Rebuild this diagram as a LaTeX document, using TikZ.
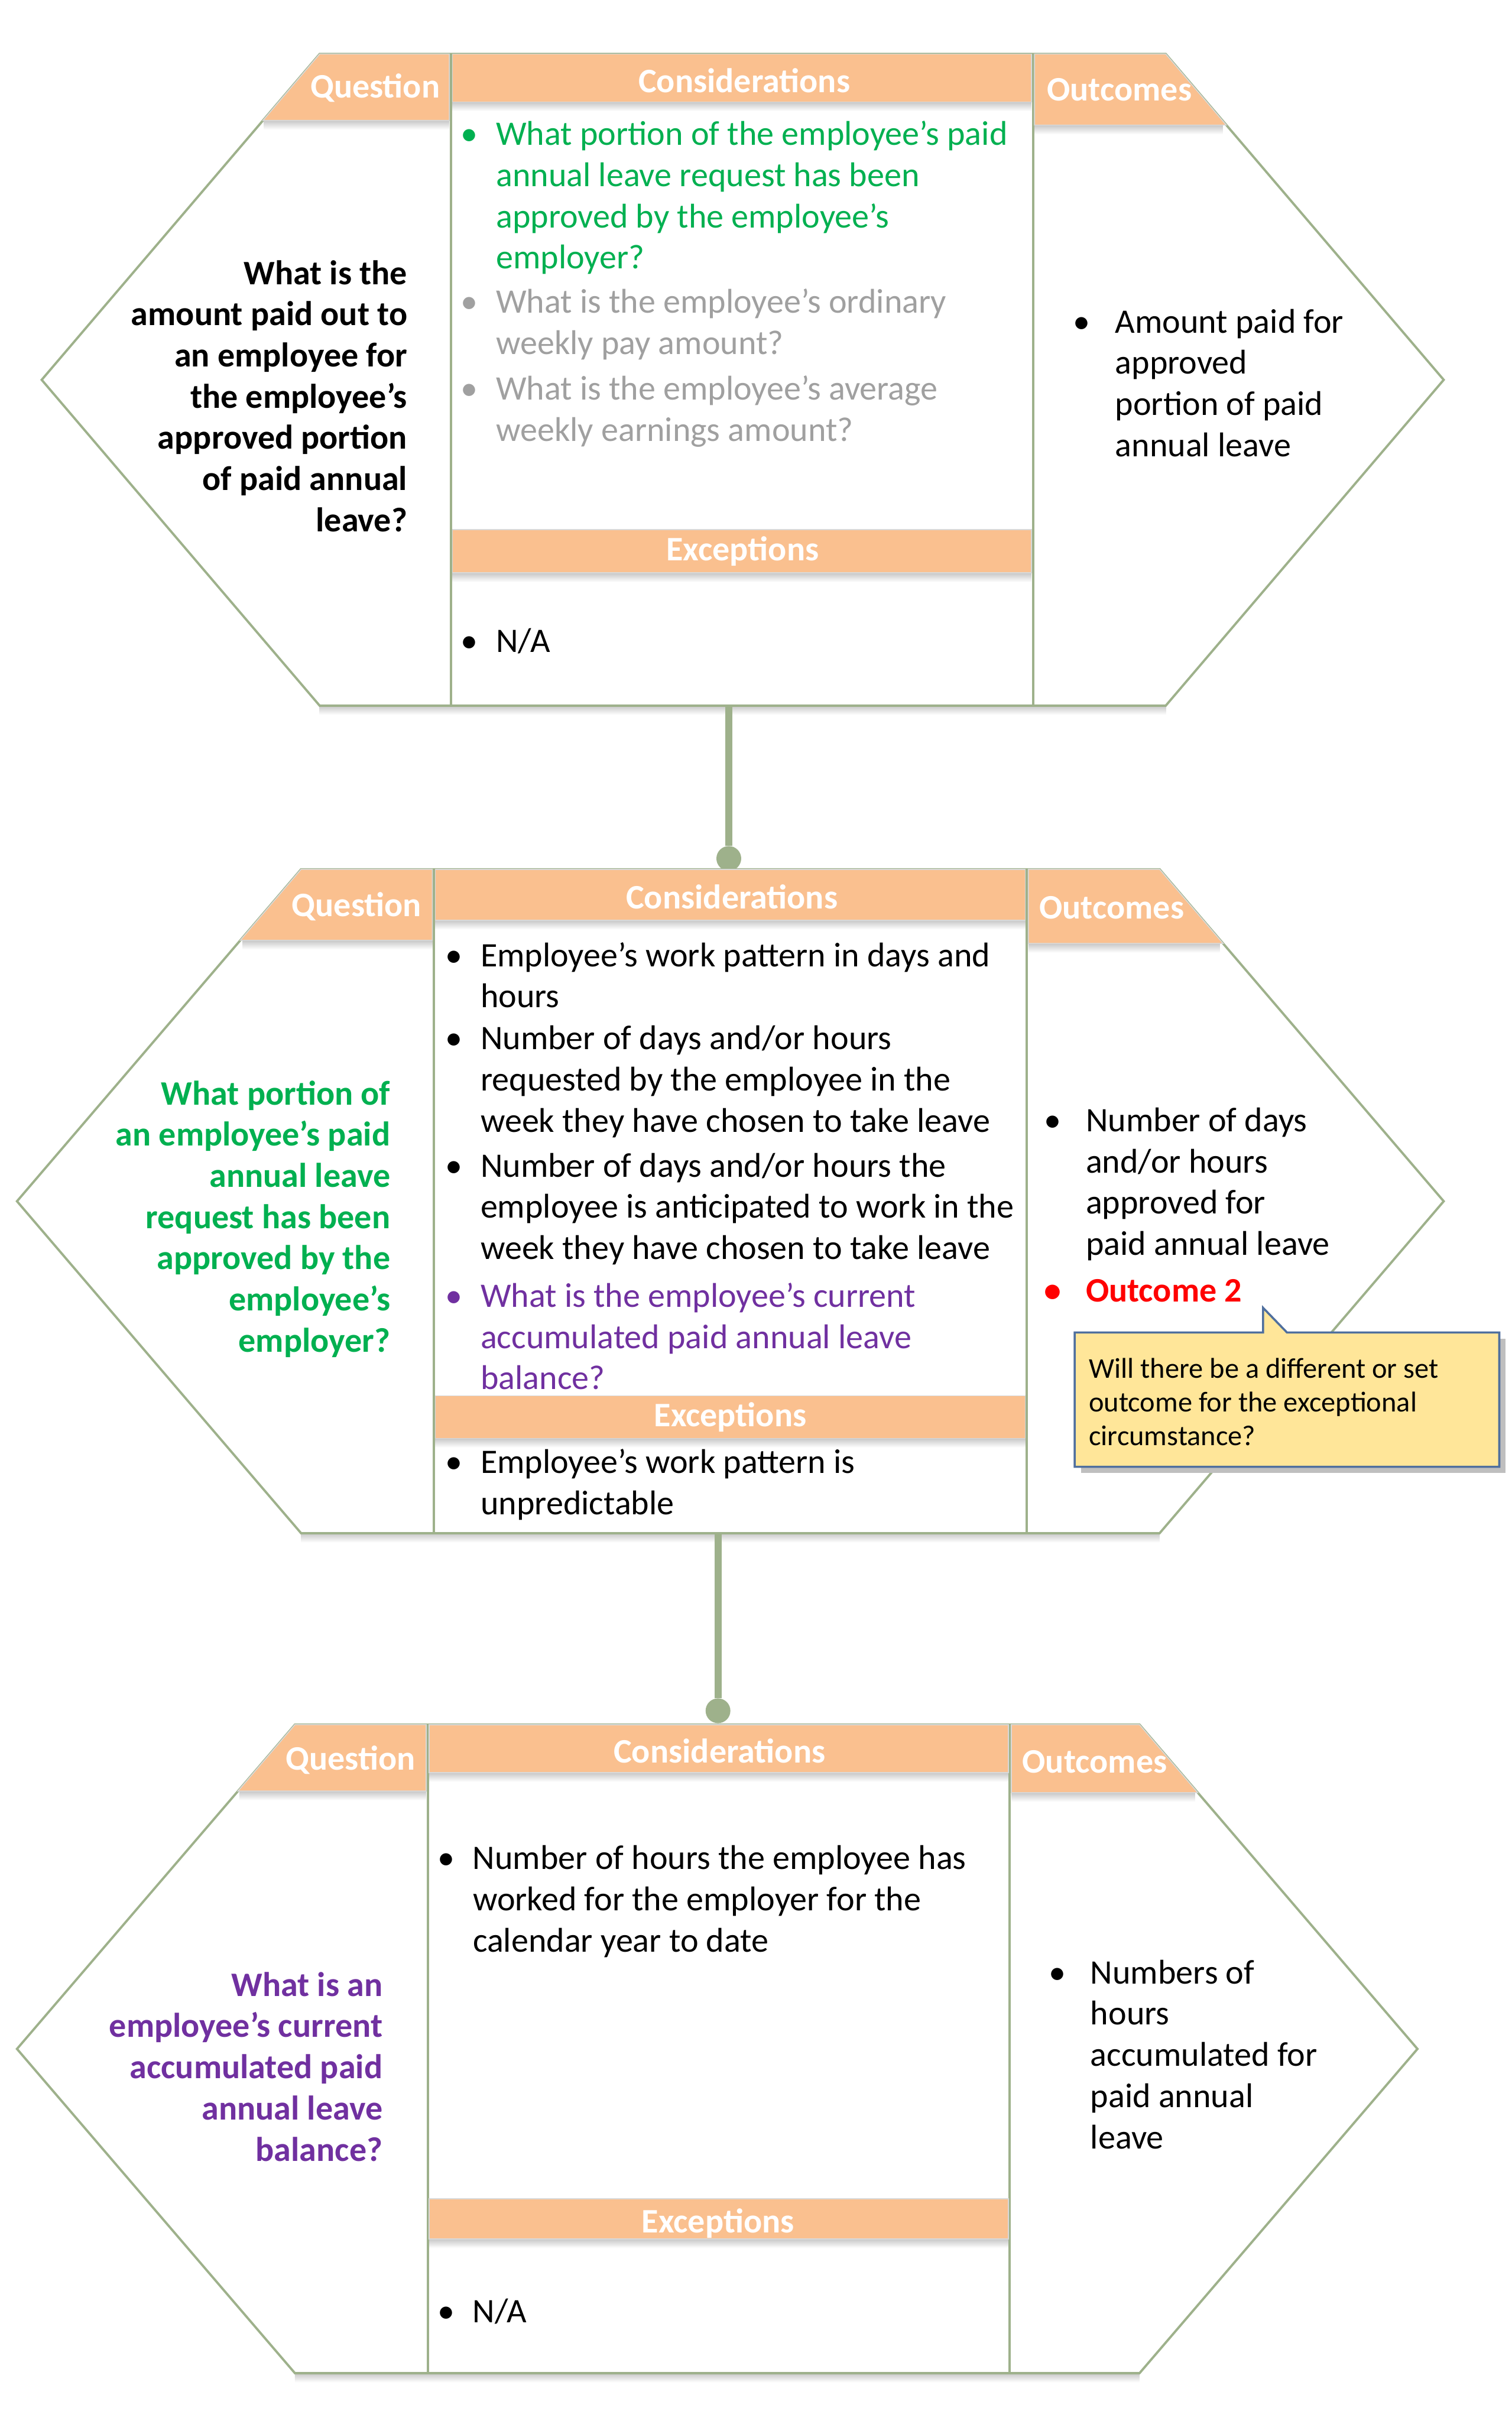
\documentclass[tikz,border=0pt]{standalone}
\usepackage{fontspec}
\setmainfont{Carlito}
\definecolor{hexgreen}{RGB}{158,177,139}
\definecolor{headorange}{RGB}{250,192,143}
\definecolor{askgreen}{RGB}{0,176,80}
\definecolor{softgray}{RGB}{160,160,160}
\definecolor{askpurple}{RGB}{112,48,160}
\definecolor{notefill}{RGB}{255,230,153}
\definecolor{noteline}{RGB}{79,111,158}
\newcommand{\bodyfont}{\fontsize{18}{21.6}\selectfont}
\newcommand{\notefont}{\fontsize{15}{17.7}\selectfont}
\newcommand{\itembul}[1][9.5pt]{\makebox[0pt][r]{\textbullet\hspace{#1}}}

\begin{document}
\begin{tikzpicture}[
  x=0.28447mm, y=-0.28447mm,
  hexline/.style={draw=hexgreen, line width=1.2pt},
  headfill/.style={fill=headorange, draw=black!15, line width=0.5pt},
  headtxt/.style={text=white, font=\bodyfont\bfseries, inner sep=0pt},
  shadowband/.style={top color=black!22, bottom color=white, draw=none},
  body/.style={inner sep=0pt, font=\bodyfont, align=left, anchor=west},
  qtxt/.style={inner sep=0pt, font=\bodyfont\bfseries, align=right, anchor=east},
  link/.style={draw=hexgreen, line width=3.6pt},
  dot/.style={circle, fill=hexgreen, minimum size=13pt, inner sep=0pt},
  notebox/.style={fill=notefill, draw=noteline, line width=1.1pt},
  notetxt/.style={inner sep=0pt, font=\notefont, align=left, anchor=west}
]
\useasboundingbox (0,0) rectangle (979,1568);

% block 1
\shade[shadowband] (207,457) rectangle (755,463);
\draw[hexline, fill=white] (27,246) -- (207,35) -- (755,35) -- (935,246) -- (755,457) -- (207,457) -- cycle;
\draw[hexline] (292,35) -- (292,457);
\draw[hexline] (669,35) -- (669,457);
\shade[shadowband] (171,78) rectangle (291,84);
\shade[shadowband] (293,66) rectangle (668,72);
\shade[shadowband] (670,81) rectangle (792,87);
\shade[shadowband] (293,371) rectangle (668,377);
\filldraw[headfill] (207,35) -- (291,35) -- (291,78) -- (170.3,78) -- cycle;
\filldraw[headfill] (293,35) rectangle (668,66);
\filldraw[headfill] (670,35) -- (755,35) -- (794.2,81) -- (670,81) -- cycle;
\filldraw[headfill] (293,343) rectangle (668,371);
\node[headtxt] (q1h) at (243,57) {Question};
\node[headtxt] (c1h) at (482,52) {Considerations};
\node[headtxt] (o1h) at (725,58) {Outcomes};
\node[headtxt] (e1h) at (481,357) {Exceptions};
\node[qtxt] (q1) at (264,256.5) {What is the\\amount paid out to\\an employee for\\the employee’s\\approved portion\\of paid annual\\leave?};
\node[body, text=askgreen] (c1a) at (321,128) {\itembul What portion of the employee’s paid\\annual leave request has been\\approved by the employee’s\\employer?};
\node[body, text=softgray] (c1b) at (321,210) {\itembul What is the employee’s ordinary\\weekly pay amount?};
\node[body, text=softgray] (c1c) at (321,266.5) {\itembul What is the employee’s average\\weekly earnings amount?};
\node[body] (x1a) at (321,415) {\itembul N/A};
\node[body] (o1a) at (722,248) {\itembul[13pt]Amount paid for\\approved\\portion of paid\\annual leave};

\coordinate (b1foot) at (472,457);
\node[dot] (dot1) at (472,556) {};
\draw[link] (b1foot) -- (dot1);

% block 2
\shade[shadowband] (195,993) rectangle (751,999);
\draw[hexline, fill=white] (11,778) -- (195,563) -- (751,563) -- (935,778) -- (751,993) -- (195,993) -- cycle;
\draw[hexline] (281,563) -- (281,993);
\draw[hexline] (665,563) -- (665,993);
\shade[shadowband] (157,609) rectangle (280,615);
\shade[shadowband] (282,596) rectangle (664,602);
\shade[shadowband] (666,611) rectangle (790,617);
\shade[shadowband] (282,931.5) rectangle (664,937.5);
\filldraw[headfill] (195,563) -- (280,563) -- (280,609) -- (155.6,609) -- cycle;
\filldraw[headfill] (282,563) rectangle (664,596);
\filldraw[headfill] (666,563) -- (751,563) -- (792.1,611) -- (666,611) -- cycle;
\filldraw[headfill] (282,904) rectangle (664,931.5);
\node[headtxt] (q2h) at (231,587) {Question};
\node[headtxt] (c2h) at (474,581) {Considerations};
\node[headtxt] (o2h) at (720,588) {Outcomes};
\node[headtxt] (e2h) at (473,918) {Exceptions};
\node[qtxt, text=askgreen] (q2) at (253,789.5) {What portion of\\an employee’s paid\\annual leave\\request has been\\approved by the\\employee’s\\employer?};
\node[body] (c2a) at (311,631.5) {\itembul Employee’s work pattern in days and\\hours};
\node[body] (c2b) at (311,700.5) {\itembul Number of days and/or hours\\requested by the employee in the\\week they have chosen to take leave};
\node[body] (c2c) at (311,783) {\itembul Number of days and/or hours the\\employee is anticipated to work in the\\week they have chosen to take leave};
\node[body, text=askpurple] (c2d) at (311,865.5) {\itembul What is the employee’s current\\accumulated paid annual leave\\balance?};
\node[body] (x2a) at (311,961.5) {\itembul Employee’s work pattern is\\unpredictable};
\node[body] (o2a) at (703,767) {\itembul[13pt]Number of days\\and/or hours\\approved for\\paid annual leave};
\node[body, text=red, font=\bodyfont\bfseries] (o2b) at (703,836) {\itembul[13pt]Outcome 2};

\fill[black!25] (700,867) rectangle (975,954);
\filldraw[notebox] (696,863) -- (818,863) -- (818,847) -- (833.5,863) -- (971,863) -- (971,950) -- (696,950) -- cycle;
\node[notetxt] (note) at (705,908) {Will there be a different or set\\outcome for the exceptional\\circumstance?};

\coordinate (b2foot) at (465,993);
\node[dot] (dot2) at (465,1108) {};
\draw[link] (b2foot) -- (dot2);

% block 3
\shade[shadowband] (191,1537) rectangle (738,1543);
\draw[hexline, fill=white] (11,1327) -- (191,1117) -- (738,1117) -- (918,1327) -- (738,1537) -- (191,1537) -- cycle;
\draw[hexline] (277,1117) -- (277,1537);
\draw[hexline] (654,1117) -- (654,1537);
\shade[shadowband] (155,1160) rectangle (276,1166);
\shade[shadowband] (278,1148) rectangle (653,1154);
\shade[shadowband] (655,1161) rectangle (774,1167);
\shade[shadowband] (278,1450) rectangle (653,1456);
\filldraw[headfill] (191,1117) -- (276,1117) -- (276,1160) -- (154.1,1160) -- cycle;
\filldraw[headfill] (278,1117) rectangle (653,1148);
\filldraw[headfill] (655,1117) -- (738,1117) -- (775.7,1161) -- (655,1161) -- cycle;
\filldraw[headfill] (278,1424) rectangle (653,1450);
\node[headtxt] (q3h) at (227,1140) {Question};
\node[headtxt] (c3h) at (466,1134) {Considerations};
\node[headtxt] (o3h) at (709,1141) {Outcomes};
\node[headtxt] (e3h) at (465,1440) {Exceptions};
\node[qtxt, text=askpurple] (q3) at (248,1338.5) {What is an\\employee’s current\\accumulated paid\\annual leave\\balance?};
\node[body] (c3a) at (306,1231.5) {\itembul Number of hours the employee has\\worked for the employer for the\\calendar year to date};
\node[body] (x3a) at (306,1497) {\itembul N/A};
\node[body] (o3a) at (706,1330.5) {\itembul[13pt]Numbers of\\hours\\accumulated for\\paid annual\\leave};
\end{tikzpicture}
\end{document}
